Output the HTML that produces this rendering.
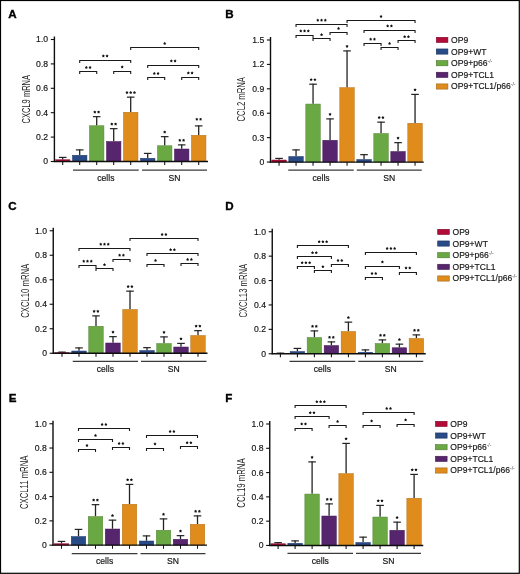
<!DOCTYPE html>
<html><head><meta charset="utf-8"><title>Figure</title>
<style>html,body{margin:0;padding:0;background:#fff;}svg{display:block;will-change:transform;}</style></head>
<body><svg width="520" height="574" viewBox="0 0 520 574">
<rect x="0" y="0" width="520" height="574" fill="#fff"/>
<rect x="0.5" y="0.5" width="518.8" height="572.8" fill="none" stroke="#000" stroke-width="1.2"/>
<text x="8.3" y="18.2" font-size="11.6" font-weight="bold" fill="#000" stroke="#000" stroke-width="0.35" font-family="Liberation Sans, sans-serif">A</text>
<text transform="translate(30.2,99.2) rotate(-90)" font-size="10.4" text-anchor="middle" textLength="48.6" lengthAdjust="spacingAndGlyphs" fill="#1e1e1e" font-family="Liberation Sans, sans-serif">CXCL9 mRNA</text>
<line x1="50.8" y1="161.5" x2="54.4" y2="161.5" stroke="#0e0e0e" stroke-width="1.1"/>
<text transform="translate(48.1,164.45) scale(0.93,1)" font-size="9.3" text-anchor="end" fill="#161616" stroke="#161616" stroke-width="0.18" font-family="Liberation Sans, sans-serif">0</text>
<line x1="50.8" y1="137.1" x2="54.4" y2="137.1" stroke="#0e0e0e" stroke-width="1.1"/>
<text transform="translate(48.1,140.05) scale(0.93,1)" font-size="9.3" text-anchor="end" fill="#161616" stroke="#161616" stroke-width="0.18" font-family="Liberation Sans, sans-serif">0.2</text>
<line x1="50.8" y1="112.7" x2="54.4" y2="112.7" stroke="#0e0e0e" stroke-width="1.1"/>
<text transform="translate(48.1,115.65) scale(0.93,1)" font-size="9.3" text-anchor="end" fill="#161616" stroke="#161616" stroke-width="0.18" font-family="Liberation Sans, sans-serif">0.4</text>
<line x1="50.8" y1="88.3" x2="54.4" y2="88.3" stroke="#0e0e0e" stroke-width="1.1"/>
<text transform="translate(48.1,91.25) scale(0.93,1)" font-size="9.3" text-anchor="end" fill="#161616" stroke="#161616" stroke-width="0.18" font-family="Liberation Sans, sans-serif">0.6</text>
<line x1="50.8" y1="63.9" x2="54.4" y2="63.9" stroke="#0e0e0e" stroke-width="1.1"/>
<text transform="translate(48.1,66.85) scale(0.93,1)" font-size="9.3" text-anchor="end" fill="#161616" stroke="#161616" stroke-width="0.18" font-family="Liberation Sans, sans-serif">0.8</text>
<line x1="50.8" y1="39.5" x2="54.4" y2="39.5" stroke="#0e0e0e" stroke-width="1.1"/>
<text transform="translate(48.1,42.45) scale(0.93,1)" font-size="9.3" text-anchor="end" fill="#161616" stroke="#161616" stroke-width="0.18" font-family="Liberation Sans, sans-serif">1.0</text>
<line x1="62.7" y1="157" x2="62.7" y2="159.5" stroke="#232323" stroke-width="1.3"/>
<line x1="58.9" y1="157.4" x2="66.5" y2="157.4" stroke="#232323" stroke-width="1.2"/>
<rect x="55.45" y="159.75" width="14.5" height="1.75" fill="#B00C37" stroke="#8c092c" stroke-width="0.5"/>
<line x1="62.7" y1="161.5" x2="62.7" y2="165.1" stroke="#0e0e0e" stroke-width="1.05"/>
<line x1="79.7" y1="149.5" x2="79.7" y2="155" stroke="#232323" stroke-width="1.3"/>
<line x1="75.9" y1="149.9" x2="83.5" y2="149.9" stroke="#232323" stroke-width="1.2"/>
<rect x="72.45" y="155.25" width="14.5" height="6.25" fill="#284A86" stroke="#203b6b" stroke-width="0.5"/>
<line x1="79.7" y1="161.5" x2="79.7" y2="165.1" stroke="#0e0e0e" stroke-width="1.05"/>
<line x1="96.7" y1="116.25" x2="96.7" y2="125.5" stroke="#232323" stroke-width="1.3"/>
<line x1="92.9" y1="116.65" x2="100.5" y2="116.65" stroke="#232323" stroke-width="1.2"/>
<rect x="89.45" y="125.75" width="14.5" height="35.75" fill="#6AA843" stroke="#548635" stroke-width="0.5"/>
<polygon points="94.83,110.50 95.38,111.33 96.35,111.61 95.73,112.39 95.77,113.39 94.83,113.05 93.88,113.39 93.92,112.39 93.30,111.61 94.27,111.33" fill="#111"/>
<polygon points="98.58,110.50 99.13,111.33 100.10,111.61 99.48,112.39 99.52,113.39 98.58,113.05 97.63,113.39 97.67,112.39 97.05,111.61 98.02,111.33" fill="#111"/>
<line x1="96.7" y1="161.5" x2="96.7" y2="165.1" stroke="#0e0e0e" stroke-width="1.05"/>
<line x1="113.7" y1="128.25" x2="113.7" y2="141.25" stroke="#232323" stroke-width="1.3"/>
<line x1="109.9" y1="128.65" x2="117.5" y2="128.65" stroke="#232323" stroke-width="1.2"/>
<rect x="106.45" y="141.5" width="14.5" height="20" fill="#56256D" stroke="#441d57" stroke-width="0.5"/>
<polygon points="111.83,122.50 112.38,123.33 113.35,123.61 112.73,124.39 112.77,125.39 111.83,125.05 110.88,125.39 110.92,124.39 110.30,123.61 111.27,123.33" fill="#111"/>
<polygon points="115.58,122.50 116.13,123.33 117.10,123.61 116.48,124.39 116.52,125.39 115.58,125.05 114.63,125.39 114.67,124.39 114.05,123.61 115.02,123.33" fill="#111"/>
<line x1="113.7" y1="161.5" x2="113.7" y2="165.1" stroke="#0e0e0e" stroke-width="1.05"/>
<line x1="130.7" y1="96.75" x2="130.7" y2="112" stroke="#232323" stroke-width="1.3"/>
<line x1="126.9" y1="97.15" x2="134.5" y2="97.15" stroke="#232323" stroke-width="1.2"/>
<rect x="123.45" y="112.25" width="14.5" height="49.25" fill="#E08C1C" stroke="#b37016" stroke-width="0.5"/>
<polygon points="126.95,91.00 127.51,91.83 128.47,92.11 127.85,92.89 127.89,93.89 126.95,93.55 126.01,93.89 126.05,92.89 125.43,92.11 126.39,91.83" fill="#111"/>
<polygon points="130.70,91.00 131.26,91.83 132.22,92.11 131.60,92.89 131.64,93.89 130.70,93.55 129.76,93.89 129.80,92.89 129.18,92.11 130.14,91.83" fill="#111"/>
<polygon points="134.45,91.00 135.01,91.83 135.97,92.11 135.35,92.89 135.39,93.89 134.45,93.55 133.51,93.89 133.55,92.89 132.93,92.11 133.89,91.83" fill="#111"/>
<line x1="130.7" y1="161.5" x2="130.7" y2="165.1" stroke="#0e0e0e" stroke-width="1.05"/>
<line x1="147.7" y1="153" x2="147.7" y2="158" stroke="#232323" stroke-width="1.3"/>
<line x1="143.9" y1="153.4" x2="151.5" y2="153.4" stroke="#232323" stroke-width="1.2"/>
<rect x="140.45" y="158.25" width="14.5" height="3.25" fill="#284A86" stroke="#203b6b" stroke-width="0.5"/>
<line x1="147.7" y1="161.5" x2="147.7" y2="165.1" stroke="#0e0e0e" stroke-width="1.05"/>
<line x1="164.7" y1="136.25" x2="164.7" y2="145.5" stroke="#232323" stroke-width="1.3"/>
<line x1="160.9" y1="136.65" x2="168.5" y2="136.65" stroke="#232323" stroke-width="1.2"/>
<rect x="157.45" y="145.75" width="14.5" height="15.75" fill="#6AA843" stroke="#548635" stroke-width="0.5"/>
<polygon points="164.70,130.50 165.26,131.33 166.22,131.61 165.60,132.39 165.64,133.39 164.70,133.05 163.76,133.39 163.80,132.39 163.18,131.61 164.14,131.33" fill="#111"/>
<line x1="164.7" y1="161.5" x2="164.7" y2="165.1" stroke="#0e0e0e" stroke-width="1.05"/>
<line x1="181.7" y1="144.5" x2="181.7" y2="148.75" stroke="#232323" stroke-width="1.3"/>
<line x1="177.9" y1="144.9" x2="185.5" y2="144.9" stroke="#232323" stroke-width="1.2"/>
<rect x="174.45" y="149" width="14.5" height="12.5" fill="#56256D" stroke="#441d57" stroke-width="0.5"/>
<polygon points="179.82,138.75 180.38,139.58 181.35,139.86 180.73,140.64 180.77,141.64 179.82,141.30 178.88,141.64 178.92,140.64 178.30,139.86 179.27,139.58" fill="#111"/>
<polygon points="183.57,138.75 184.13,139.58 185.10,139.86 184.48,140.64 184.52,141.64 183.57,141.30 182.63,141.64 182.67,140.64 182.05,139.86 183.02,139.58" fill="#111"/>
<line x1="181.7" y1="161.5" x2="181.7" y2="165.1" stroke="#0e0e0e" stroke-width="1.05"/>
<line x1="198.7" y1="125.5" x2="198.7" y2="135" stroke="#232323" stroke-width="1.3"/>
<line x1="194.9" y1="125.9" x2="202.5" y2="125.9" stroke="#232323" stroke-width="1.2"/>
<rect x="191.45" y="135.25" width="14.5" height="26.25" fill="#E08C1C" stroke="#b37016" stroke-width="0.5"/>
<polygon points="196.82,117.65 197.38,118.48 198.35,118.76 197.73,119.54 197.77,120.54 196.82,120.20 195.88,120.54 195.92,119.54 195.30,118.76 196.27,118.48" fill="#111"/>
<polygon points="200.57,117.65 201.13,118.48 202.10,118.76 201.48,119.54 201.52,120.54 200.57,120.20 199.63,120.54 199.67,119.54 199.05,118.76 200.02,118.48" fill="#111"/>
<line x1="198.7" y1="161.5" x2="198.7" y2="165.1" stroke="#0e0e0e" stroke-width="1.05"/>
<line x1="54.4" y1="36.5" x2="54.4" y2="162.1" stroke="#0e0e0e" stroke-width="1.4"/>
<line x1="53.8" y1="161.5" x2="208" y2="161.5" stroke="#0e0e0e" stroke-width="1.35"/>
<line x1="73" y1="170" x2="138.75" y2="170" stroke="#3a3a3a" stroke-width="1.25"/>
<text x="105.88" y="180.7" font-size="8.6" text-anchor="middle" fill="#161616" stroke="#161616" stroke-width="0.18" font-family="Liberation Sans, sans-serif">cells</text>
<line x1="142" y1="170" x2="207" y2="170" stroke="#3a3a3a" stroke-width="1.25"/>
<text x="174.5" y="180.7" font-size="8.6" text-anchor="middle" fill="#161616" stroke="#161616" stroke-width="0.18" font-family="Liberation Sans, sans-serif">SN</text>
<path d="M79.7 63.1V60.5H130.7V63.1" fill="none" stroke="#1a1a1a" stroke-width="1.1"/>
<polygon points="103.32,54.35 103.88,55.18 104.85,55.46 104.23,56.24 104.27,57.24 103.32,56.90 102.38,57.24 102.42,56.24 101.80,55.46 102.77,55.18" fill="#111"/>
<polygon points="107.07,54.35 107.63,55.18 108.60,55.46 107.98,56.24 108.02,57.24 107.07,56.90 106.13,57.24 106.17,56.24 105.55,55.46 106.52,55.18" fill="#111"/>
<path d="M79.7 74.1V71.5H96.7V74.1" fill="none" stroke="#1a1a1a" stroke-width="1.1"/>
<polygon points="86.33,65.85 86.88,66.68 87.85,66.96 87.23,67.74 87.27,68.74 86.33,68.40 85.38,68.74 85.42,67.74 84.80,66.96 85.77,66.68" fill="#111"/>
<polygon points="90.08,65.85 90.63,66.68 91.60,66.96 90.98,67.74 91.02,68.74 90.08,68.40 89.13,68.74 89.17,67.74 88.55,66.96 89.52,66.68" fill="#111"/>
<path d="M113.7 74.1V71.5H130.7V74.1" fill="none" stroke="#1a1a1a" stroke-width="1.1"/>
<polygon points="122.20,65.35 122.76,66.18 123.72,66.46 123.10,67.24 123.14,68.24 122.20,67.90 121.26,68.24 121.30,67.24 120.68,66.46 121.64,66.18" fill="#111"/>
<path d="M130.7 50.1V47.5H198.7V50.1" fill="none" stroke="#1a1a1a" stroke-width="1.1"/>
<polygon points="164.70,41.85 165.26,42.68 166.22,42.96 165.60,43.74 165.64,44.74 164.70,44.40 163.76,44.74 163.80,43.74 163.18,42.96 164.14,42.68" fill="#111"/>
<path d="M147.7 68.1V65.5H198.7V68.1" fill="none" stroke="#1a1a1a" stroke-width="1.1"/>
<polygon points="171.32,59.35 171.88,60.18 172.85,60.46 172.23,61.24 172.27,62.24 171.32,61.90 170.38,62.24 170.42,61.24 169.80,60.46 170.77,60.18" fill="#111"/>
<polygon points="175.07,59.35 175.63,60.18 176.60,60.46 175.98,61.24 176.02,62.24 175.07,61.90 174.13,62.24 174.17,61.24 173.55,60.46 174.52,60.18" fill="#111"/>
<path d="M147.7 80.1V77.5H164.7V80.1" fill="none" stroke="#1a1a1a" stroke-width="1.1"/>
<polygon points="154.32,71.85 154.88,72.68 155.85,72.96 155.23,73.74 155.27,74.74 154.32,74.40 153.38,74.74 153.42,73.74 152.80,72.96 153.77,72.68" fill="#111"/>
<polygon points="158.07,71.85 158.63,72.68 159.60,72.96 158.98,73.74 159.02,74.74 158.07,74.40 157.13,74.74 157.17,73.74 156.55,72.96 157.52,72.68" fill="#111"/>
<path d="M181.7 80.1V77.5H198.7V80.1" fill="none" stroke="#1a1a1a" stroke-width="1.1"/>
<polygon points="188.32,71.35 188.88,72.18 189.85,72.46 189.23,73.24 189.27,74.24 188.32,73.90 187.38,74.24 187.42,73.24 186.80,72.46 187.77,72.18" fill="#111"/>
<polygon points="192.07,71.35 192.63,72.18 193.60,72.46 192.98,73.24 193.02,74.24 192.07,73.90 191.13,74.24 191.17,73.24 190.55,72.46 191.52,72.18" fill="#111"/>
<text x="225.3" y="18.2" font-size="11.6" font-weight="bold" fill="#000" stroke="#000" stroke-width="0.35" font-family="Liberation Sans, sans-serif">B</text>
<text transform="translate(245.1,99.25) rotate(-90)" font-size="10.4" text-anchor="middle" textLength="44.4" lengthAdjust="spacingAndGlyphs" fill="#1e1e1e" font-family="Liberation Sans, sans-serif">CCL2 mRNA</text>
<line x1="266.9" y1="162.05" x2="270.5" y2="162.05" stroke="#0e0e0e" stroke-width="1.1"/>
<text transform="translate(264.2,165) scale(0.93,1)" font-size="9.3" text-anchor="end" fill="#161616" stroke="#161616" stroke-width="0.18" font-family="Liberation Sans, sans-serif">0</text>
<line x1="266.9" y1="137.64" x2="270.5" y2="137.64" stroke="#0e0e0e" stroke-width="1.1"/>
<text transform="translate(264.2,140.59) scale(0.93,1)" font-size="9.3" text-anchor="end" fill="#161616" stroke="#161616" stroke-width="0.18" font-family="Liberation Sans, sans-serif">0.3</text>
<line x1="266.9" y1="113.23" x2="270.5" y2="113.23" stroke="#0e0e0e" stroke-width="1.1"/>
<text transform="translate(264.2,116.18) scale(0.93,1)" font-size="9.3" text-anchor="end" fill="#161616" stroke="#161616" stroke-width="0.18" font-family="Liberation Sans, sans-serif">0.6</text>
<line x1="266.9" y1="88.82" x2="270.5" y2="88.82" stroke="#0e0e0e" stroke-width="1.1"/>
<text transform="translate(264.2,91.77) scale(0.93,1)" font-size="9.3" text-anchor="end" fill="#161616" stroke="#161616" stroke-width="0.18" font-family="Liberation Sans, sans-serif">0.9</text>
<line x1="266.9" y1="64.41" x2="270.5" y2="64.41" stroke="#0e0e0e" stroke-width="1.1"/>
<text transform="translate(264.2,67.36) scale(0.93,1)" font-size="9.3" text-anchor="end" fill="#161616" stroke="#161616" stroke-width="0.18" font-family="Liberation Sans, sans-serif">1.2</text>
<line x1="266.9" y1="40" x2="270.5" y2="40" stroke="#0e0e0e" stroke-width="1.1"/>
<text transform="translate(264.2,42.95) scale(0.93,1)" font-size="9.3" text-anchor="end" fill="#161616" stroke="#161616" stroke-width="0.18" font-family="Liberation Sans, sans-serif">1.5</text>
<line x1="279.05" y1="158" x2="279.05" y2="159.75" stroke="#232323" stroke-width="1.3"/>
<line x1="275.25" y1="158.4" x2="282.85" y2="158.4" stroke="#232323" stroke-width="1.2"/>
<rect x="271.8" y="160" width="14.5" height="2.05" fill="#B00C37" stroke="#8c092c" stroke-width="0.5"/>
<line x1="279.05" y1="162.05" x2="279.05" y2="165.65" stroke="#0e0e0e" stroke-width="1.05"/>
<line x1="296.05" y1="149.5" x2="296.05" y2="156.25" stroke="#232323" stroke-width="1.3"/>
<line x1="292.25" y1="149.9" x2="299.85" y2="149.9" stroke="#232323" stroke-width="1.2"/>
<rect x="288.8" y="156.5" width="14.5" height="5.55" fill="#284A86" stroke="#203b6b" stroke-width="0.5"/>
<line x1="296.05" y1="162.05" x2="296.05" y2="165.65" stroke="#0e0e0e" stroke-width="1.05"/>
<line x1="313.05" y1="83.8" x2="313.05" y2="103.8" stroke="#232323" stroke-width="1.3"/>
<line x1="309.25" y1="84.2" x2="316.85" y2="84.2" stroke="#232323" stroke-width="1.2"/>
<rect x="305.8" y="104.05" width="14.5" height="58" fill="#6AA843" stroke="#548635" stroke-width="0.5"/>
<polygon points="311.18,78.05 311.73,78.88 312.70,79.16 312.08,79.94 312.12,80.94 311.18,80.60 310.23,80.94 310.27,79.94 309.65,79.16 310.62,78.88" fill="#111"/>
<polygon points="314.93,78.05 315.48,78.88 316.45,79.16 315.83,79.94 315.87,80.94 314.93,80.60 313.98,80.94 314.02,79.94 313.40,79.16 314.37,78.88" fill="#111"/>
<line x1="313.05" y1="162.05" x2="313.05" y2="165.65" stroke="#0e0e0e" stroke-width="1.05"/>
<line x1="330.05" y1="118.5" x2="330.05" y2="140" stroke="#232323" stroke-width="1.3"/>
<line x1="326.25" y1="118.9" x2="333.85" y2="118.9" stroke="#232323" stroke-width="1.2"/>
<rect x="322.8" y="140.25" width="14.5" height="21.8" fill="#56256D" stroke="#441d57" stroke-width="0.5"/>
<polygon points="330.05,112.75 330.61,113.58 331.57,113.86 330.95,114.64 330.99,115.64 330.05,115.30 329.11,115.64 329.15,114.64 328.53,113.86 329.49,113.58" fill="#111"/>
<line x1="330.05" y1="162.05" x2="330.05" y2="165.65" stroke="#0e0e0e" stroke-width="1.05"/>
<line x1="347.05" y1="50.5" x2="347.05" y2="87.4" stroke="#232323" stroke-width="1.3"/>
<line x1="343.25" y1="50.9" x2="350.85" y2="50.9" stroke="#232323" stroke-width="1.2"/>
<rect x="339.8" y="87.65" width="14.5" height="74.4" fill="#E08C1C" stroke="#b37016" stroke-width="0.5"/>
<polygon points="347.05,44.75 347.61,45.58 348.57,45.86 347.95,46.64 347.99,47.64 347.05,47.30 346.11,47.64 346.15,46.64 345.53,45.86 346.49,45.58" fill="#111"/>
<line x1="347.05" y1="162.05" x2="347.05" y2="165.65" stroke="#0e0e0e" stroke-width="1.05"/>
<line x1="364.05" y1="154.25" x2="364.05" y2="159.25" stroke="#232323" stroke-width="1.3"/>
<line x1="360.25" y1="154.65" x2="367.85" y2="154.65" stroke="#232323" stroke-width="1.2"/>
<rect x="356.8" y="159.5" width="14.5" height="2.55" fill="#284A86" stroke="#203b6b" stroke-width="0.5"/>
<line x1="364.05" y1="162.05" x2="364.05" y2="165.65" stroke="#0e0e0e" stroke-width="1.05"/>
<line x1="381.05" y1="121.75" x2="381.05" y2="133.25" stroke="#232323" stroke-width="1.3"/>
<line x1="377.25" y1="122.15" x2="384.85" y2="122.15" stroke="#232323" stroke-width="1.2"/>
<rect x="373.8" y="133.5" width="14.5" height="28.55" fill="#6AA843" stroke="#548635" stroke-width="0.5"/>
<polygon points="379.18,116.00 379.73,116.83 380.70,117.11 380.08,117.89 380.12,118.89 379.18,118.55 378.23,118.89 378.27,117.89 377.65,117.11 378.62,116.83" fill="#111"/>
<polygon points="382.93,116.00 383.48,116.83 384.45,117.11 383.83,117.89 383.87,118.89 382.93,118.55 381.98,118.89 382.02,117.89 381.40,117.11 382.37,116.83" fill="#111"/>
<line x1="381.05" y1="162.05" x2="381.05" y2="165.65" stroke="#0e0e0e" stroke-width="1.05"/>
<line x1="398.05" y1="142.25" x2="398.05" y2="151.25" stroke="#232323" stroke-width="1.3"/>
<line x1="394.25" y1="142.65" x2="401.85" y2="142.65" stroke="#232323" stroke-width="1.2"/>
<rect x="390.8" y="151.5" width="14.5" height="10.55" fill="#56256D" stroke="#441d57" stroke-width="0.5"/>
<polygon points="398.05,136.50 398.61,137.33 399.57,137.61 398.95,138.39 398.99,139.39 398.05,139.05 397.11,139.39 397.15,138.39 396.53,137.61 397.49,137.33" fill="#111"/>
<line x1="398.05" y1="162.05" x2="398.05" y2="165.65" stroke="#0e0e0e" stroke-width="1.05"/>
<line x1="415.05" y1="94" x2="415.05" y2="123" stroke="#232323" stroke-width="1.3"/>
<line x1="411.25" y1="94.4" x2="418.85" y2="94.4" stroke="#232323" stroke-width="1.2"/>
<rect x="407.8" y="123.25" width="14.5" height="38.8" fill="#E08C1C" stroke="#b37016" stroke-width="0.5"/>
<polygon points="415.05,88.25 415.61,89.08 416.57,89.36 415.95,90.14 415.99,91.14 415.05,90.80 414.11,91.14 414.15,90.14 413.53,89.36 414.49,89.08" fill="#111"/>
<line x1="415.05" y1="162.05" x2="415.05" y2="165.65" stroke="#0e0e0e" stroke-width="1.05"/>
<line x1="270.5" y1="37" x2="270.5" y2="162.65" stroke="#0e0e0e" stroke-width="1.4"/>
<line x1="269.9" y1="162.05" x2="423.75" y2="162.05" stroke="#0e0e0e" stroke-width="1.35"/>
<line x1="288.25" y1="170" x2="353.75" y2="170" stroke="#3a3a3a" stroke-width="1.25"/>
<text x="321" y="180.7" font-size="8.6" text-anchor="middle" fill="#161616" stroke="#161616" stroke-width="0.18" font-family="Liberation Sans, sans-serif">cells</text>
<line x1="356.75" y1="170" x2="421.75" y2="170" stroke="#3a3a3a" stroke-width="1.25"/>
<text x="389.25" y="180.7" font-size="8.6" text-anchor="middle" fill="#161616" stroke="#161616" stroke-width="0.18" font-family="Liberation Sans, sans-serif">SN</text>
<path d="M296.05 27.1V24.5H347.05V27.1" fill="none" stroke="#1a1a1a" stroke-width="1.1"/>
<polygon points="317.80,18.60 318.36,19.43 319.32,19.71 318.70,20.49 318.74,21.49 317.80,21.15 316.86,21.49 316.90,20.49 316.28,19.71 317.24,19.43" fill="#111"/>
<polygon points="321.55,18.60 322.11,19.43 323.07,19.71 322.45,20.49 322.49,21.49 321.55,21.15 320.61,21.49 320.65,20.49 320.03,19.71 320.99,19.43" fill="#111"/>
<polygon points="325.30,18.60 325.86,19.43 326.82,19.71 326.20,20.49 326.24,21.49 325.30,21.15 324.36,21.49 324.40,20.49 323.78,19.71 324.74,19.43" fill="#111"/>
<path d="M347.05 23.1V20.5H415.05V23.1" fill="none" stroke="#1a1a1a" stroke-width="1.1"/>
<polygon points="381.05,14.85 381.61,15.68 382.57,15.96 381.95,16.74 381.99,17.74 381.05,17.40 380.11,17.74 380.15,16.74 379.53,15.96 380.49,15.68" fill="#111"/>
<path d="M296.05 38.1V35.5H313.05V38.1" fill="none" stroke="#1a1a1a" stroke-width="1.1"/>
<polygon points="300.80,29.35 301.36,30.18 302.32,30.46 301.70,31.24 301.74,32.24 300.80,31.90 299.86,32.24 299.90,31.24 299.28,30.46 300.24,30.18" fill="#111"/>
<polygon points="304.55,29.35 305.11,30.18 306.07,30.46 305.45,31.24 305.49,32.24 304.55,31.90 303.61,32.24 303.65,31.24 303.03,30.46 303.99,30.18" fill="#111"/>
<polygon points="308.30,29.35 308.86,30.18 309.82,30.46 309.20,31.24 309.24,32.24 308.30,31.90 307.36,32.24 307.40,31.24 306.78,30.46 307.74,30.18" fill="#111"/>
<path d="M313.05 41.1V38.5H330.05V41.1" fill="none" stroke="#1a1a1a" stroke-width="1.1"/>
<polygon points="321.55,33.10 322.11,33.93 323.07,34.21 322.45,34.99 322.49,35.99 321.55,35.65 320.61,35.99 320.65,34.99 320.03,34.21 320.99,33.93" fill="#111"/>
<path d="M330.05 35.1V32.5H347.05V35.1" fill="none" stroke="#1a1a1a" stroke-width="1.1"/>
<polygon points="338.55,26.85 339.11,27.68 340.07,27.96 339.45,28.74 339.49,29.74 338.55,29.40 337.61,29.74 337.65,28.74 337.03,27.96 337.99,27.68" fill="#111"/>
<path d="M364.05 33.1V30.5H415.05V33.1" fill="none" stroke="#1a1a1a" stroke-width="1.1"/>
<polygon points="387.68,24.35 388.23,25.18 389.20,25.46 388.58,26.24 388.62,27.24 387.68,26.90 386.73,27.24 386.77,26.24 386.15,25.46 387.12,25.18" fill="#111"/>
<polygon points="391.43,24.35 391.98,25.18 392.95,25.46 392.33,26.24 392.37,27.24 391.43,26.90 390.48,27.24 390.52,26.24 389.90,25.46 390.87,25.18" fill="#111"/>
<path d="M364.05 46.1V43.5H381.05V46.1" fill="none" stroke="#1a1a1a" stroke-width="1.1"/>
<polygon points="370.68,37.60 371.23,38.43 372.20,38.71 371.58,39.49 371.62,40.49 370.68,40.15 369.73,40.49 369.77,39.49 369.15,38.71 370.12,38.43" fill="#111"/>
<polygon points="374.43,37.60 374.98,38.43 375.95,38.71 375.33,39.49 375.37,40.49 374.43,40.15 373.48,40.49 373.52,39.49 372.90,38.71 373.87,38.43" fill="#111"/>
<path d="M381.05 50.1V47.5H398.05V50.1" fill="none" stroke="#1a1a1a" stroke-width="1.1"/>
<polygon points="389.55,41.85 390.11,42.68 391.07,42.96 390.45,43.74 390.49,44.74 389.55,44.40 388.61,44.74 388.65,43.74 388.03,42.96 388.99,42.68" fill="#111"/>
<path d="M398.05 43.1V40.5H415.05V43.1" fill="none" stroke="#1a1a1a" stroke-width="1.1"/>
<polygon points="404.68,35.10 405.23,35.93 406.20,36.21 405.58,36.99 405.62,37.99 404.68,37.65 403.73,37.99 403.77,36.99 403.15,36.21 404.12,35.93" fill="#111"/>
<polygon points="408.43,35.10 408.98,35.93 409.95,36.21 409.33,36.99 409.37,37.99 408.43,37.65 407.48,37.99 407.52,36.99 406.90,36.21 407.87,35.93" fill="#111"/>
<text x="8.3" y="210" font-size="11.6" font-weight="bold" fill="#000" stroke="#000" stroke-width="0.35" font-family="Liberation Sans, sans-serif">C</text>
<text transform="translate(29.2,290.75) rotate(-90)" font-size="10.4" text-anchor="middle" textLength="54" lengthAdjust="spacingAndGlyphs" fill="#1e1e1e" font-family="Liberation Sans, sans-serif">CXCL10 mRNA</text>
<line x1="49.65" y1="353.25" x2="53.25" y2="353.25" stroke="#0e0e0e" stroke-width="1.1"/>
<text transform="translate(46.95,356.2) scale(0.93,1)" font-size="9.3" text-anchor="end" fill="#161616" stroke="#161616" stroke-width="0.18" font-family="Liberation Sans, sans-serif">0</text>
<line x1="49.65" y1="328.75" x2="53.25" y2="328.75" stroke="#0e0e0e" stroke-width="1.1"/>
<text transform="translate(46.95,331.7) scale(0.93,1)" font-size="9.3" text-anchor="end" fill="#161616" stroke="#161616" stroke-width="0.18" font-family="Liberation Sans, sans-serif">0.2</text>
<line x1="49.65" y1="304.25" x2="53.25" y2="304.25" stroke="#0e0e0e" stroke-width="1.1"/>
<text transform="translate(46.95,307.2) scale(0.93,1)" font-size="9.3" text-anchor="end" fill="#161616" stroke="#161616" stroke-width="0.18" font-family="Liberation Sans, sans-serif">0.4</text>
<line x1="49.65" y1="279.75" x2="53.25" y2="279.75" stroke="#0e0e0e" stroke-width="1.1"/>
<text transform="translate(46.95,282.7) scale(0.93,1)" font-size="9.3" text-anchor="end" fill="#161616" stroke="#161616" stroke-width="0.18" font-family="Liberation Sans, sans-serif">0.6</text>
<line x1="49.65" y1="255.25" x2="53.25" y2="255.25" stroke="#0e0e0e" stroke-width="1.1"/>
<text transform="translate(46.95,258.2) scale(0.93,1)" font-size="9.3" text-anchor="end" fill="#161616" stroke="#161616" stroke-width="0.18" font-family="Liberation Sans, sans-serif">0.8</text>
<line x1="49.65" y1="230.75" x2="53.25" y2="230.75" stroke="#0e0e0e" stroke-width="1.1"/>
<text transform="translate(46.95,233.7) scale(0.93,1)" font-size="9.3" text-anchor="end" fill="#161616" stroke="#161616" stroke-width="0.18" font-family="Liberation Sans, sans-serif">1.0</text>
<line x1="62" y1="351.75" x2="62" y2="352.5" stroke="#232323" stroke-width="1.3"/>
<line x1="58.2" y1="352.15" x2="65.8" y2="352.15" stroke="#232323" stroke-width="1.2"/>
<rect x="54.75" y="352.75" width="14.5" height="0.5" fill="#B00C37" stroke="#8c092c" stroke-width="0.5"/>
<line x1="62" y1="353.25" x2="62" y2="356.85" stroke="#0e0e0e" stroke-width="1.05"/>
<line x1="79" y1="347.5" x2="79" y2="350.75" stroke="#232323" stroke-width="1.3"/>
<line x1="75.2" y1="347.9" x2="82.8" y2="347.9" stroke="#232323" stroke-width="1.2"/>
<rect x="71.75" y="351" width="14.5" height="2.25" fill="#284A86" stroke="#203b6b" stroke-width="0.5"/>
<line x1="79" y1="353.25" x2="79" y2="356.85" stroke="#0e0e0e" stroke-width="1.05"/>
<line x1="96" y1="315.5" x2="96" y2="326" stroke="#232323" stroke-width="1.3"/>
<line x1="92.2" y1="315.9" x2="99.8" y2="315.9" stroke="#232323" stroke-width="1.2"/>
<rect x="88.75" y="326.25" width="14.5" height="27" fill="#6AA843" stroke="#548635" stroke-width="0.5"/>
<polygon points="94.12,309.75 94.68,310.58 95.65,310.86 95.03,311.64 95.07,312.64 94.12,312.30 93.18,312.64 93.22,311.64 92.60,310.86 93.57,310.58" fill="#111"/>
<polygon points="97.88,309.75 98.43,310.58 99.40,310.86 98.78,311.64 98.82,312.64 97.88,312.30 96.93,312.64 96.97,311.64 96.35,310.86 97.32,310.58" fill="#111"/>
<line x1="96" y1="353.25" x2="96" y2="356.85" stroke="#0e0e0e" stroke-width="1.05"/>
<line x1="113" y1="336.25" x2="113" y2="342.75" stroke="#232323" stroke-width="1.3"/>
<line x1="109.2" y1="336.65" x2="116.8" y2="336.65" stroke="#232323" stroke-width="1.2"/>
<rect x="105.75" y="343" width="14.5" height="10.25" fill="#56256D" stroke="#441d57" stroke-width="0.5"/>
<polygon points="113.00,330.50 113.56,331.33 114.52,331.61 113.90,332.39 113.94,333.39 113.00,333.05 112.06,333.39 112.10,332.39 111.48,331.61 112.44,331.33" fill="#111"/>
<line x1="113" y1="353.25" x2="113" y2="356.85" stroke="#0e0e0e" stroke-width="1.05"/>
<line x1="130" y1="290.75" x2="130" y2="309.25" stroke="#232323" stroke-width="1.3"/>
<line x1="126.2" y1="291.15" x2="133.8" y2="291.15" stroke="#232323" stroke-width="1.2"/>
<rect x="122.75" y="309.5" width="14.5" height="43.75" fill="#E08C1C" stroke="#b37016" stroke-width="0.5"/>
<polygon points="128.12,285.00 128.68,285.83 129.65,286.11 129.03,286.89 129.07,287.89 128.12,287.55 127.18,287.89 127.22,286.89 126.60,286.11 127.57,285.83" fill="#111"/>
<polygon points="131.88,285.00 132.43,285.83 133.40,286.11 132.78,286.89 132.82,287.89 131.88,287.55 130.93,287.89 130.97,286.89 130.35,286.11 131.32,285.83" fill="#111"/>
<line x1="130" y1="353.25" x2="130" y2="356.85" stroke="#0e0e0e" stroke-width="1.05"/>
<line x1="147" y1="347.25" x2="147" y2="350.25" stroke="#232323" stroke-width="1.3"/>
<line x1="143.2" y1="347.65" x2="150.8" y2="347.65" stroke="#232323" stroke-width="1.2"/>
<rect x="139.75" y="350.5" width="14.5" height="2.75" fill="#284A86" stroke="#203b6b" stroke-width="0.5"/>
<line x1="147" y1="353.25" x2="147" y2="356.85" stroke="#0e0e0e" stroke-width="1.05"/>
<line x1="164" y1="336.5" x2="164" y2="343.25" stroke="#232323" stroke-width="1.3"/>
<line x1="160.2" y1="336.9" x2="167.8" y2="336.9" stroke="#232323" stroke-width="1.2"/>
<rect x="156.75" y="343.5" width="14.5" height="9.75" fill="#6AA843" stroke="#548635" stroke-width="0.5"/>
<polygon points="164.00,330.75 164.56,331.58 165.52,331.86 164.90,332.64 164.94,333.64 164.00,333.30 163.06,333.64 163.10,332.64 162.48,331.86 163.44,331.58" fill="#111"/>
<line x1="164" y1="353.25" x2="164" y2="356.85" stroke="#0e0e0e" stroke-width="1.05"/>
<line x1="181" y1="343" x2="181" y2="346.75" stroke="#232323" stroke-width="1.3"/>
<line x1="177.2" y1="343.4" x2="184.8" y2="343.4" stroke="#232323" stroke-width="1.2"/>
<rect x="173.75" y="347" width="14.5" height="6.25" fill="#56256D" stroke="#441d57" stroke-width="0.5"/>
<polygon points="181.00,337.25 181.56,338.08 182.52,338.36 181.90,339.14 181.94,340.14 181.00,339.80 180.06,340.14 180.10,339.14 179.48,338.36 180.44,338.08" fill="#111"/>
<line x1="181" y1="353.25" x2="181" y2="356.85" stroke="#0e0e0e" stroke-width="1.05"/>
<line x1="198" y1="330.25" x2="198" y2="335.25" stroke="#232323" stroke-width="1.3"/>
<line x1="194.2" y1="330.65" x2="201.8" y2="330.65" stroke="#232323" stroke-width="1.2"/>
<rect x="190.75" y="335.5" width="14.5" height="17.75" fill="#E08C1C" stroke="#b37016" stroke-width="0.5"/>
<polygon points="196.12,324.50 196.68,325.33 197.65,325.61 197.03,326.39 197.07,327.39 196.12,327.05 195.18,327.39 195.22,326.39 194.60,325.61 195.57,325.33" fill="#111"/>
<polygon points="199.88,324.50 200.43,325.33 201.40,325.61 200.78,326.39 200.82,327.39 199.88,327.05 198.93,327.39 198.97,326.39 198.35,325.61 199.32,325.33" fill="#111"/>
<line x1="198" y1="353.25" x2="198" y2="356.85" stroke="#0e0e0e" stroke-width="1.05"/>
<line x1="53.25" y1="227.75" x2="53.25" y2="353.85" stroke="#0e0e0e" stroke-width="1.4"/>
<line x1="52.65" y1="353.25" x2="207.5" y2="353.25" stroke="#0e0e0e" stroke-width="1.35"/>
<line x1="72.75" y1="361.25" x2="138" y2="361.25" stroke="#3a3a3a" stroke-width="1.25"/>
<text x="105.38" y="371.95" font-size="8.6" text-anchor="middle" fill="#161616" stroke="#161616" stroke-width="0.18" font-family="Liberation Sans, sans-serif">cells</text>
<line x1="141" y1="361.25" x2="206.5" y2="361.25" stroke="#3a3a3a" stroke-width="1.25"/>
<text x="173.75" y="371.95" font-size="8.6" text-anchor="middle" fill="#161616" stroke="#161616" stroke-width="0.18" font-family="Liberation Sans, sans-serif">SN</text>
<path d="M130 241.1V238.5H198V241.1" fill="none" stroke="#1a1a1a" stroke-width="1.1"/>
<polygon points="162.12,232.85 162.68,233.68 163.65,233.96 163.03,234.74 163.07,235.74 162.12,235.40 161.18,235.74 161.22,234.74 160.60,233.96 161.57,233.68" fill="#111"/>
<polygon points="165.88,232.85 166.43,233.68 167.40,233.96 166.78,234.74 166.82,235.74 165.88,235.40 164.93,235.74 164.97,234.74 164.35,233.96 165.32,233.68" fill="#111"/>
<path d="M79 251.1V248.5H130V251.1" fill="none" stroke="#1a1a1a" stroke-width="1.1"/>
<polygon points="100.75,242.60 101.31,243.43 102.27,243.71 101.65,244.49 101.69,245.49 100.75,245.15 99.81,245.49 99.85,244.49 99.23,243.71 100.19,243.43" fill="#111"/>
<polygon points="104.50,242.60 105.06,243.43 106.02,243.71 105.40,244.49 105.44,245.49 104.50,245.15 103.56,245.49 103.60,244.49 102.98,243.71 103.94,243.43" fill="#111"/>
<polygon points="108.25,242.60 108.81,243.43 109.77,243.71 109.15,244.49 109.19,245.49 108.25,245.15 107.31,245.49 107.35,244.49 106.73,243.71 107.69,243.43" fill="#111"/>
<path d="M79 268.1V265.5H96V268.1" fill="none" stroke="#1a1a1a" stroke-width="1.1"/>
<polygon points="83.75,259.60 84.31,260.43 85.27,260.71 84.65,261.49 84.69,262.49 83.75,262.15 82.81,262.49 82.85,261.49 82.23,260.71 83.19,260.43" fill="#111"/>
<polygon points="87.50,259.60 88.06,260.43 89.02,260.71 88.40,261.49 88.44,262.49 87.50,262.15 86.56,262.49 86.60,261.49 85.98,260.71 86.94,260.43" fill="#111"/>
<polygon points="91.25,259.60 91.81,260.43 92.77,260.71 92.15,261.49 92.19,262.49 91.25,262.15 90.31,262.49 90.35,261.49 89.73,260.71 90.69,260.43" fill="#111"/>
<path d="M96 271.1V268.5H113V271.1" fill="none" stroke="#1a1a1a" stroke-width="1.1"/>
<polygon points="104.50,263.10 105.06,263.93 106.02,264.21 105.40,264.99 105.44,265.99 104.50,265.65 103.56,265.99 103.60,264.99 102.98,264.21 103.94,263.93" fill="#111"/>
<path d="M113 262.1V259.5H130V262.1" fill="none" stroke="#1a1a1a" stroke-width="1.1"/>
<polygon points="119.62,253.60 120.18,254.43 121.15,254.71 120.53,255.49 120.57,256.49 119.62,256.15 118.68,256.49 118.72,255.49 118.10,254.71 119.07,254.43" fill="#111"/>
<polygon points="123.38,253.60 123.93,254.43 124.90,254.71 124.28,255.49 124.32,256.49 123.38,256.15 122.43,256.49 122.47,255.49 121.85,254.71 122.82,254.43" fill="#111"/>
<path d="M147 256.1V253.5H198V256.1" fill="none" stroke="#1a1a1a" stroke-width="1.1"/>
<polygon points="170.62,248.10 171.18,248.93 172.15,249.21 171.53,249.99 171.57,250.99 170.62,250.65 169.68,250.99 169.72,249.99 169.10,249.21 170.07,248.93" fill="#111"/>
<polygon points="174.38,248.10 174.93,248.93 175.90,249.21 175.28,249.99 175.32,250.99 174.38,250.65 173.43,250.99 173.47,249.99 172.85,249.21 173.82,248.93" fill="#111"/>
<path d="M147 267.1V264.5H164V267.1" fill="none" stroke="#1a1a1a" stroke-width="1.1"/>
<polygon points="155.50,258.85 156.06,259.68 157.02,259.96 156.40,260.74 156.44,261.74 155.50,261.40 154.56,261.74 154.60,260.74 153.98,259.96 154.94,259.68" fill="#111"/>
<path d="M181 266.1V263.5H198V266.1" fill="none" stroke="#1a1a1a" stroke-width="1.1"/>
<polygon points="187.62,257.85 188.18,258.68 189.15,258.96 188.53,259.74 188.57,260.74 187.62,260.40 186.68,260.74 186.72,259.74 186.10,258.96 187.07,258.68" fill="#111"/>
<polygon points="191.38,257.85 191.93,258.68 192.90,258.96 192.28,259.74 192.32,260.74 191.38,260.40 190.43,260.74 190.47,259.74 189.85,258.96 190.82,258.68" fill="#111"/>
<text x="225.3" y="210" font-size="11.6" font-weight="bold" fill="#000" stroke="#000" stroke-width="0.35" font-family="Liberation Sans, sans-serif">D</text>
<text transform="translate(246.8,290.75) rotate(-90)" font-size="10.4" text-anchor="middle" textLength="53.6" lengthAdjust="spacingAndGlyphs" fill="#1e1e1e" font-family="Liberation Sans, sans-serif">CXCL13 mRNA</text>
<line x1="268.65" y1="353.75" x2="272.25" y2="353.75" stroke="#0e0e0e" stroke-width="1.1"/>
<text transform="translate(265.95,356.7) scale(0.93,1)" font-size="9.3" text-anchor="end" fill="#161616" stroke="#161616" stroke-width="0.18" font-family="Liberation Sans, sans-serif">0</text>
<line x1="268.65" y1="329.35" x2="272.25" y2="329.35" stroke="#0e0e0e" stroke-width="1.1"/>
<text transform="translate(265.95,332.3) scale(0.93,1)" font-size="9.3" text-anchor="end" fill="#161616" stroke="#161616" stroke-width="0.18" font-family="Liberation Sans, sans-serif">0.2</text>
<line x1="268.65" y1="304.95" x2="272.25" y2="304.95" stroke="#0e0e0e" stroke-width="1.1"/>
<text transform="translate(265.95,307.9) scale(0.93,1)" font-size="9.3" text-anchor="end" fill="#161616" stroke="#161616" stroke-width="0.18" font-family="Liberation Sans, sans-serif">0.4</text>
<line x1="268.65" y1="280.55" x2="272.25" y2="280.55" stroke="#0e0e0e" stroke-width="1.1"/>
<text transform="translate(265.95,283.5) scale(0.93,1)" font-size="9.3" text-anchor="end" fill="#161616" stroke="#161616" stroke-width="0.18" font-family="Liberation Sans, sans-serif">0.6</text>
<line x1="268.65" y1="256.15" x2="272.25" y2="256.15" stroke="#0e0e0e" stroke-width="1.1"/>
<text transform="translate(265.95,259.1) scale(0.93,1)" font-size="9.3" text-anchor="end" fill="#161616" stroke="#161616" stroke-width="0.18" font-family="Liberation Sans, sans-serif">0.8</text>
<line x1="268.65" y1="231.75" x2="272.25" y2="231.75" stroke="#0e0e0e" stroke-width="1.1"/>
<text transform="translate(265.95,234.7) scale(0.93,1)" font-size="9.3" text-anchor="end" fill="#161616" stroke="#161616" stroke-width="0.18" font-family="Liberation Sans, sans-serif">1.0</text>
<line x1="280.4" y1="352.75" x2="280.4" y2="353.4" stroke="#232323" stroke-width="1.3"/>
<line x1="276.6" y1="353.15" x2="284.2" y2="353.15" stroke="#232323" stroke-width="1.2"/>
<rect x="273.15" y="353.65" width="14.5" height="0.1" fill="#B00C37" stroke="#8c092c" stroke-width="0.5"/>
<line x1="280.4" y1="353.75" x2="280.4" y2="357.35" stroke="#0e0e0e" stroke-width="1.05"/>
<line x1="297.4" y1="348" x2="297.4" y2="351.25" stroke="#232323" stroke-width="1.3"/>
<line x1="293.6" y1="348.4" x2="301.2" y2="348.4" stroke="#232323" stroke-width="1.2"/>
<rect x="290.15" y="351.5" width="14.5" height="2.25" fill="#284A86" stroke="#203b6b" stroke-width="0.5"/>
<line x1="297.4" y1="353.75" x2="297.4" y2="357.35" stroke="#0e0e0e" stroke-width="1.05"/>
<line x1="314.4" y1="330.5" x2="314.4" y2="337.25" stroke="#232323" stroke-width="1.3"/>
<line x1="310.6" y1="330.9" x2="318.2" y2="330.9" stroke="#232323" stroke-width="1.2"/>
<rect x="307.15" y="337.5" width="14.5" height="16.25" fill="#6AA843" stroke="#548635" stroke-width="0.5"/>
<polygon points="312.52,324.75 313.08,325.58 314.05,325.86 313.43,326.64 313.47,327.64 312.52,327.30 311.58,327.64 311.62,326.64 311.00,325.86 311.97,325.58" fill="#111"/>
<polygon points="316.27,324.75 316.83,325.58 317.80,325.86 317.18,326.64 317.22,327.64 316.27,327.30 315.33,327.64 315.37,326.64 314.75,325.86 315.72,325.58" fill="#111"/>
<line x1="314.4" y1="353.75" x2="314.4" y2="357.35" stroke="#0e0e0e" stroke-width="1.05"/>
<line x1="331.4" y1="341.5" x2="331.4" y2="345.25" stroke="#232323" stroke-width="1.3"/>
<line x1="327.6" y1="341.9" x2="335.2" y2="341.9" stroke="#232323" stroke-width="1.2"/>
<rect x="324.15" y="345.5" width="14.5" height="8.25" fill="#56256D" stroke="#441d57" stroke-width="0.5"/>
<polygon points="329.52,335.75 330.08,336.58 331.05,336.86 330.43,337.64 330.47,338.64 329.52,338.30 328.58,338.64 328.62,337.64 328.00,336.86 328.97,336.58" fill="#111"/>
<polygon points="333.27,335.75 333.83,336.58 334.80,336.86 334.18,337.64 334.22,338.64 333.27,338.30 332.33,338.64 332.37,337.64 331.75,336.86 332.72,336.58" fill="#111"/>
<line x1="331.4" y1="353.75" x2="331.4" y2="357.35" stroke="#0e0e0e" stroke-width="1.05"/>
<line x1="348.4" y1="321.75" x2="348.4" y2="331.25" stroke="#232323" stroke-width="1.3"/>
<line x1="344.6" y1="322.15" x2="352.2" y2="322.15" stroke="#232323" stroke-width="1.2"/>
<rect x="341.15" y="331.5" width="14.5" height="22.25" fill="#E08C1C" stroke="#b37016" stroke-width="0.5"/>
<polygon points="348.40,316.00 348.96,316.83 349.92,317.11 349.30,317.89 349.34,318.89 348.40,318.55 347.46,318.89 347.50,317.89 346.88,317.11 347.84,316.83" fill="#111"/>
<line x1="348.4" y1="353.75" x2="348.4" y2="357.35" stroke="#0e0e0e" stroke-width="1.05"/>
<line x1="365.4" y1="349.5" x2="365.4" y2="352" stroke="#232323" stroke-width="1.3"/>
<line x1="361.6" y1="349.9" x2="369.2" y2="349.9" stroke="#232323" stroke-width="1.2"/>
<rect x="358.15" y="352.25" width="14.5" height="1.5" fill="#284A86" stroke="#203b6b" stroke-width="0.5"/>
<line x1="365.4" y1="353.75" x2="365.4" y2="357.35" stroke="#0e0e0e" stroke-width="1.05"/>
<line x1="382.4" y1="339.5" x2="382.4" y2="343.25" stroke="#232323" stroke-width="1.3"/>
<line x1="378.6" y1="339.9" x2="386.2" y2="339.9" stroke="#232323" stroke-width="1.2"/>
<rect x="375.15" y="343.5" width="14.5" height="10.25" fill="#6AA843" stroke="#548635" stroke-width="0.5"/>
<polygon points="380.52,333.75 381.08,334.58 382.05,334.86 381.43,335.64 381.47,336.64 380.52,336.30 379.58,336.64 379.62,335.64 379.00,334.86 379.97,334.58" fill="#111"/>
<polygon points="384.27,333.75 384.83,334.58 385.80,334.86 385.18,335.64 385.22,336.64 384.27,336.30 383.33,336.64 383.37,335.64 382.75,334.86 383.72,334.58" fill="#111"/>
<line x1="382.4" y1="353.75" x2="382.4" y2="357.35" stroke="#0e0e0e" stroke-width="1.05"/>
<line x1="399.4" y1="343.75" x2="399.4" y2="347.5" stroke="#232323" stroke-width="1.3"/>
<line x1="395.6" y1="344.15" x2="403.2" y2="344.15" stroke="#232323" stroke-width="1.2"/>
<rect x="392.15" y="347.75" width="14.5" height="6" fill="#56256D" stroke="#441d57" stroke-width="0.5"/>
<polygon points="399.40,338.00 399.96,338.83 400.92,339.11 400.30,339.89 400.34,340.89 399.40,340.55 398.46,340.89 398.50,339.89 397.88,339.11 398.84,338.83" fill="#111"/>
<line x1="399.4" y1="353.75" x2="399.4" y2="357.35" stroke="#0e0e0e" stroke-width="1.05"/>
<line x1="416.4" y1="334.5" x2="416.4" y2="338.25" stroke="#232323" stroke-width="1.3"/>
<line x1="412.6" y1="334.9" x2="420.2" y2="334.9" stroke="#232323" stroke-width="1.2"/>
<rect x="409.15" y="338.5" width="14.5" height="15.25" fill="#E08C1C" stroke="#b37016" stroke-width="0.5"/>
<polygon points="414.52,328.75 415.08,329.58 416.05,329.86 415.43,330.64 415.47,331.64 414.52,331.30 413.58,331.64 413.62,330.64 413.00,329.86 413.97,329.58" fill="#111"/>
<polygon points="418.27,328.75 418.83,329.58 419.80,329.86 419.18,330.64 419.22,331.64 418.27,331.30 417.33,331.64 417.37,330.64 416.75,329.86 417.72,329.58" fill="#111"/>
<line x1="416.4" y1="353.75" x2="416.4" y2="357.35" stroke="#0e0e0e" stroke-width="1.05"/>
<line x1="272.25" y1="228.75" x2="272.25" y2="354.35" stroke="#0e0e0e" stroke-width="1.4"/>
<line x1="271.65" y1="353.75" x2="425.75" y2="353.75" stroke="#0e0e0e" stroke-width="1.35"/>
<line x1="289.5" y1="361.25" x2="355.25" y2="361.25" stroke="#3a3a3a" stroke-width="1.25"/>
<text x="322.38" y="371.95" font-size="8.6" text-anchor="middle" fill="#161616" stroke="#161616" stroke-width="0.18" font-family="Liberation Sans, sans-serif">cells</text>
<line x1="358.25" y1="361.25" x2="423.25" y2="361.25" stroke="#3a3a3a" stroke-width="1.25"/>
<text x="390.75" y="371.95" font-size="8.6" text-anchor="middle" fill="#161616" stroke="#161616" stroke-width="0.18" font-family="Liberation Sans, sans-serif">SN</text>
<path d="M297.4 248.1V245.5H348.4V248.1" fill="none" stroke="#1a1a1a" stroke-width="1.1"/>
<polygon points="319.15,240.10 319.71,240.93 320.67,241.21 320.05,241.99 320.09,242.99 319.15,242.65 318.21,242.99 318.25,241.99 317.63,241.21 318.59,240.93" fill="#111"/>
<polygon points="322.90,240.10 323.46,240.93 324.42,241.21 323.80,241.99 323.84,242.99 322.90,242.65 321.96,242.99 322.00,241.99 321.38,241.21 322.34,240.93" fill="#111"/>
<polygon points="326.65,240.10 327.21,240.93 328.17,241.21 327.55,241.99 327.59,242.99 326.65,242.65 325.71,242.99 325.75,241.99 325.13,241.21 326.09,240.93" fill="#111"/>
<path d="M297.4 259.1V256.5H331.4V259.1" fill="none" stroke="#1a1a1a" stroke-width="1.1"/>
<polygon points="312.52,251.10 313.08,251.93 314.05,252.21 313.43,252.99 313.47,253.99 312.52,253.65 311.58,253.99 311.62,252.99 311.00,252.21 311.97,251.93" fill="#111"/>
<polygon points="316.27,251.10 316.83,251.93 317.80,252.21 317.18,252.99 317.22,253.99 316.27,253.65 315.33,253.99 315.37,252.99 314.75,252.21 315.72,251.93" fill="#111"/>
<path d="M297.4 269.1V266.5H314.4V269.1" fill="none" stroke="#1a1a1a" stroke-width="1.1"/>
<polygon points="302.15,261.10 302.71,261.93 303.67,262.21 303.05,262.99 303.09,263.99 302.15,263.65 301.21,263.99 301.25,262.99 300.63,262.21 301.59,261.93" fill="#111"/>
<polygon points="305.90,261.10 306.46,261.93 307.42,262.21 306.80,262.99 306.84,263.99 305.90,263.65 304.96,263.99 305.00,262.99 304.38,262.21 305.34,261.93" fill="#111"/>
<polygon points="309.65,261.10 310.21,261.93 311.17,262.21 310.55,262.99 310.59,263.99 309.65,263.65 308.71,263.99 308.75,262.99 308.13,262.21 309.09,261.93" fill="#111"/>
<path d="M314.4 273.1V270.5H331.4V273.1" fill="none" stroke="#1a1a1a" stroke-width="1.1"/>
<polygon points="322.90,265.10 323.46,265.93 324.42,266.21 323.80,266.99 323.84,267.99 322.90,267.65 321.96,267.99 322.00,266.99 321.38,266.21 322.34,265.93" fill="#111"/>
<path d="M331.4 267.1V264.5H348.4V267.1" fill="none" stroke="#1a1a1a" stroke-width="1.1"/>
<polygon points="338.02,258.85 338.58,259.68 339.55,259.96 338.93,260.74 338.97,261.74 338.02,261.40 337.08,261.74 337.12,260.74 336.50,259.96 337.47,259.68" fill="#111"/>
<polygon points="341.77,258.85 342.33,259.68 343.30,259.96 342.68,260.74 342.72,261.74 341.77,261.40 340.83,261.74 340.87,260.74 340.25,259.96 341.22,259.68" fill="#111"/>
<path d="M365.4 255.1V252.5H416.4V255.1" fill="none" stroke="#1a1a1a" stroke-width="1.1"/>
<polygon points="387.15,246.85 387.71,247.68 388.67,247.96 388.05,248.74 388.09,249.74 387.15,249.40 386.21,249.74 386.25,248.74 385.63,247.96 386.59,247.68" fill="#111"/>
<polygon points="390.90,246.85 391.46,247.68 392.42,247.96 391.80,248.74 391.84,249.74 390.90,249.40 389.96,249.74 390.00,248.74 389.38,247.96 390.34,247.68" fill="#111"/>
<polygon points="394.65,246.85 395.21,247.68 396.17,247.96 395.55,248.74 395.59,249.74 394.65,249.40 393.71,249.74 393.75,248.74 393.13,247.96 394.09,247.68" fill="#111"/>
<path d="M365.4 269.1V266.5H399.4V269.1" fill="none" stroke="#1a1a1a" stroke-width="1.1"/>
<polygon points="382.40,260.35 382.96,261.18 383.92,261.46 383.30,262.24 383.34,263.24 382.40,262.90 381.46,263.24 381.50,262.24 380.88,261.46 381.84,261.18" fill="#111"/>
<path d="M399.4 275.1V272.5H416.4V275.1" fill="none" stroke="#1a1a1a" stroke-width="1.1"/>
<polygon points="406.02,266.35 406.58,267.18 407.55,267.46 406.93,268.24 406.97,269.24 406.02,268.90 405.08,269.24 405.12,268.24 404.50,267.46 405.47,267.18" fill="#111"/>
<polygon points="409.77,266.35 410.33,267.18 411.30,267.46 410.68,268.24 410.72,269.24 409.77,268.90 408.83,269.24 408.87,268.24 408.25,267.46 409.22,267.18" fill="#111"/>
<path d="M365.4 280.1V277.5H382.4V280.1" fill="none" stroke="#1a1a1a" stroke-width="1.1"/>
<polygon points="372.02,271.85 372.58,272.68 373.55,272.96 372.93,273.74 372.97,274.74 372.02,274.40 371.08,274.74 371.12,273.74 370.50,272.96 371.47,272.68" fill="#111"/>
<polygon points="375.77,271.85 376.33,272.68 377.30,272.96 376.68,273.74 376.72,274.74 375.77,274.40 374.83,274.74 374.87,273.74 374.25,272.96 375.22,272.68" fill="#111"/>
<text x="8.8" y="402.2" font-size="11.6" font-weight="bold" fill="#000" stroke="#000" stroke-width="0.35" font-family="Liberation Sans, sans-serif">E</text>
<text transform="translate(28.3,482.35) rotate(-90)" font-size="10.4" text-anchor="middle" textLength="53.4" lengthAdjust="spacingAndGlyphs" fill="#1e1e1e" font-family="Liberation Sans, sans-serif">CXCL11 mRNA</text>
<line x1="49.4" y1="545.15" x2="53" y2="545.15" stroke="#0e0e0e" stroke-width="1.1"/>
<text transform="translate(46.7,548.1) scale(0.93,1)" font-size="9.3" text-anchor="end" fill="#161616" stroke="#161616" stroke-width="0.18" font-family="Liberation Sans, sans-serif">0</text>
<line x1="49.4" y1="520.87" x2="53" y2="520.87" stroke="#0e0e0e" stroke-width="1.1"/>
<text transform="translate(46.7,523.82) scale(0.93,1)" font-size="9.3" text-anchor="end" fill="#161616" stroke="#161616" stroke-width="0.18" font-family="Liberation Sans, sans-serif">0.2</text>
<line x1="49.4" y1="496.59" x2="53" y2="496.59" stroke="#0e0e0e" stroke-width="1.1"/>
<text transform="translate(46.7,499.54) scale(0.93,1)" font-size="9.3" text-anchor="end" fill="#161616" stroke="#161616" stroke-width="0.18" font-family="Liberation Sans, sans-serif">0.4</text>
<line x1="49.4" y1="472.31" x2="53" y2="472.31" stroke="#0e0e0e" stroke-width="1.1"/>
<text transform="translate(46.7,475.26) scale(0.93,1)" font-size="9.3" text-anchor="end" fill="#161616" stroke="#161616" stroke-width="0.18" font-family="Liberation Sans, sans-serif">0.6</text>
<line x1="49.4" y1="448.03" x2="53" y2="448.03" stroke="#0e0e0e" stroke-width="1.1"/>
<text transform="translate(46.7,450.98) scale(0.93,1)" font-size="9.3" text-anchor="end" fill="#161616" stroke="#161616" stroke-width="0.18" font-family="Liberation Sans, sans-serif">0.8</text>
<line x1="49.4" y1="423.75" x2="53" y2="423.75" stroke="#0e0e0e" stroke-width="1.1"/>
<text transform="translate(46.7,426.7) scale(0.93,1)" font-size="9.3" text-anchor="end" fill="#161616" stroke="#161616" stroke-width="0.18" font-family="Liberation Sans, sans-serif">1.0</text>
<line x1="61.5" y1="541" x2="61.5" y2="543.5" stroke="#232323" stroke-width="1.3"/>
<line x1="57.7" y1="541.4" x2="65.3" y2="541.4" stroke="#232323" stroke-width="1.2"/>
<rect x="54.25" y="543.75" width="14.5" height="1.4" fill="#B00C37" stroke="#8c092c" stroke-width="0.5"/>
<line x1="61.5" y1="545.15" x2="61.5" y2="548.75" stroke="#0e0e0e" stroke-width="1.05"/>
<line x1="78.5" y1="529" x2="78.5" y2="536.25" stroke="#232323" stroke-width="1.3"/>
<line x1="74.7" y1="529.4" x2="82.3" y2="529.4" stroke="#232323" stroke-width="1.2"/>
<rect x="71.25" y="536.5" width="14.5" height="8.65" fill="#284A86" stroke="#203b6b" stroke-width="0.5"/>
<line x1="78.5" y1="545.15" x2="78.5" y2="548.75" stroke="#0e0e0e" stroke-width="1.05"/>
<line x1="95.5" y1="504.25" x2="95.5" y2="516.25" stroke="#232323" stroke-width="1.3"/>
<line x1="91.7" y1="504.65" x2="99.3" y2="504.65" stroke="#232323" stroke-width="1.2"/>
<rect x="88.25" y="516.5" width="14.5" height="28.65" fill="#6AA843" stroke="#548635" stroke-width="0.5"/>
<polygon points="93.62,498.50 94.18,499.33 95.15,499.61 94.53,500.39 94.57,501.39 93.62,501.05 92.68,501.39 92.72,500.39 92.10,499.61 93.07,499.33" fill="#111"/>
<polygon points="97.38,498.50 97.93,499.33 98.90,499.61 98.28,500.39 98.32,501.39 97.38,501.05 96.43,501.39 96.47,500.39 95.85,499.61 96.82,499.33" fill="#111"/>
<line x1="95.5" y1="545.15" x2="95.5" y2="548.75" stroke="#0e0e0e" stroke-width="1.05"/>
<line x1="112.5" y1="519.75" x2="112.5" y2="528.75" stroke="#232323" stroke-width="1.3"/>
<line x1="108.7" y1="520.15" x2="116.3" y2="520.15" stroke="#232323" stroke-width="1.2"/>
<rect x="105.25" y="529" width="14.5" height="16.15" fill="#56256D" stroke="#441d57" stroke-width="0.5"/>
<polygon points="112.50,514.00 113.06,514.83 114.02,515.11 113.40,515.89 113.44,516.89 112.50,516.55 111.56,516.89 111.60,515.89 110.98,515.11 111.94,514.83" fill="#111"/>
<line x1="112.5" y1="545.15" x2="112.5" y2="548.75" stroke="#0e0e0e" stroke-width="1.05"/>
<line x1="129.5" y1="484" x2="129.5" y2="504" stroke="#232323" stroke-width="1.3"/>
<line x1="125.7" y1="484.4" x2="133.3" y2="484.4" stroke="#232323" stroke-width="1.2"/>
<rect x="122.25" y="504.25" width="14.5" height="40.9" fill="#E08C1C" stroke="#b37016" stroke-width="0.5"/>
<polygon points="127.62,478.25 128.18,479.08 129.15,479.36 128.53,480.14 128.57,481.14 127.62,480.80 126.68,481.14 126.72,480.14 126.10,479.36 127.07,479.08" fill="#111"/>
<polygon points="131.38,478.25 131.93,479.08 132.90,479.36 132.28,480.14 132.32,481.14 131.38,480.80 130.43,481.14 130.47,480.14 129.85,479.36 130.82,479.08" fill="#111"/>
<line x1="129.5" y1="545.15" x2="129.5" y2="548.75" stroke="#0e0e0e" stroke-width="1.05"/>
<line x1="146.5" y1="535.5" x2="146.5" y2="540.75" stroke="#232323" stroke-width="1.3"/>
<line x1="142.7" y1="535.9" x2="150.3" y2="535.9" stroke="#232323" stroke-width="1.2"/>
<rect x="139.25" y="541" width="14.5" height="4.15" fill="#284A86" stroke="#203b6b" stroke-width="0.5"/>
<line x1="146.5" y1="545.15" x2="146.5" y2="548.75" stroke="#0e0e0e" stroke-width="1.05"/>
<line x1="163.5" y1="518.5" x2="163.5" y2="530" stroke="#232323" stroke-width="1.3"/>
<line x1="159.7" y1="518.9" x2="167.3" y2="518.9" stroke="#232323" stroke-width="1.2"/>
<rect x="156.25" y="530.25" width="14.5" height="14.9" fill="#6AA843" stroke="#548635" stroke-width="0.5"/>
<polygon points="163.50,512.75 164.06,513.58 165.02,513.86 164.40,514.64 164.44,515.64 163.50,515.30 162.56,515.64 162.60,514.64 161.98,513.86 162.94,513.58" fill="#111"/>
<line x1="163.5" y1="545.15" x2="163.5" y2="548.75" stroke="#0e0e0e" stroke-width="1.05"/>
<line x1="180.5" y1="535.25" x2="180.5" y2="539" stroke="#232323" stroke-width="1.3"/>
<line x1="176.7" y1="535.65" x2="184.3" y2="535.65" stroke="#232323" stroke-width="1.2"/>
<rect x="173.25" y="539.25" width="14.5" height="5.9" fill="#56256D" stroke="#441d57" stroke-width="0.5"/>
<polygon points="180.50,529.50 181.06,530.33 182.02,530.61 181.40,531.39 181.44,532.39 180.50,532.05 179.56,532.39 179.60,531.39 178.98,530.61 179.94,530.33" fill="#111"/>
<line x1="180.5" y1="545.15" x2="180.5" y2="548.75" stroke="#0e0e0e" stroke-width="1.05"/>
<line x1="197.5" y1="515.5" x2="197.5" y2="524" stroke="#232323" stroke-width="1.3"/>
<line x1="193.7" y1="515.9" x2="201.3" y2="515.9" stroke="#232323" stroke-width="1.2"/>
<rect x="190.25" y="524.25" width="14.5" height="20.9" fill="#E08C1C" stroke="#b37016" stroke-width="0.5"/>
<polygon points="195.62,509.75 196.18,510.58 197.15,510.86 196.53,511.64 196.57,512.64 195.62,512.30 194.68,512.64 194.72,511.64 194.10,510.86 195.07,510.58" fill="#111"/>
<polygon points="199.38,509.75 199.93,510.58 200.90,510.86 200.28,511.64 200.32,512.64 199.38,512.30 198.43,512.64 198.47,511.64 197.85,510.86 198.82,510.58" fill="#111"/>
<line x1="197.5" y1="545.15" x2="197.5" y2="548.75" stroke="#0e0e0e" stroke-width="1.05"/>
<line x1="53" y1="420.75" x2="53" y2="545.75" stroke="#0e0e0e" stroke-width="1.4"/>
<line x1="52.4" y1="545.15" x2="207" y2="545.15" stroke="#0e0e0e" stroke-width="1.35"/>
<line x1="71.75" y1="553.5" x2="137.5" y2="553.5" stroke="#3a3a3a" stroke-width="1.25"/>
<text x="104.62" y="564.2" font-size="8.6" text-anchor="middle" fill="#161616" stroke="#161616" stroke-width="0.18" font-family="Liberation Sans, sans-serif">cells</text>
<line x1="140.5" y1="553.5" x2="205.5" y2="553.5" stroke="#3a3a3a" stroke-width="1.25"/>
<text x="173" y="564.2" font-size="8.6" text-anchor="middle" fill="#161616" stroke="#161616" stroke-width="0.18" font-family="Liberation Sans, sans-serif">SN</text>
<path d="M78.5 431.1V428.5H129.5V431.1" fill="none" stroke="#1a1a1a" stroke-width="1.1"/>
<polygon points="102.12,422.85 102.68,423.68 103.65,423.96 103.03,424.74 103.07,425.74 102.12,425.40 101.18,425.74 101.22,424.74 100.60,423.96 101.57,423.68" fill="#111"/>
<polygon points="105.88,422.85 106.43,423.68 107.40,423.96 106.78,424.74 106.82,425.74 105.88,425.40 104.93,425.74 104.97,424.74 104.35,423.96 105.32,423.68" fill="#111"/>
<path d="M78.5 442.1V439.5H112.5V442.1" fill="none" stroke="#1a1a1a" stroke-width="1.1"/>
<polygon points="95.50,433.85 96.06,434.68 97.02,434.96 96.40,435.74 96.44,436.74 95.50,436.40 94.56,436.74 94.60,435.74 93.98,434.96 94.94,434.68" fill="#111"/>
<path d="M78.5 452.1V449.5H95.5V452.1" fill="none" stroke="#1a1a1a" stroke-width="1.1"/>
<polygon points="87.00,443.85 87.56,444.68 88.52,444.96 87.90,445.74 87.94,446.74 87.00,446.40 86.06,446.74 86.10,445.74 85.48,444.96 86.44,444.68" fill="#111"/>
<path d="M112.5 450.1V447.5H129.5V450.1" fill="none" stroke="#1a1a1a" stroke-width="1.1"/>
<polygon points="119.12,441.85 119.68,442.68 120.65,442.96 120.03,443.74 120.07,444.74 119.12,444.40 118.18,444.74 118.22,443.74 117.60,442.96 118.57,442.68" fill="#111"/>
<polygon points="122.88,441.85 123.43,442.68 124.40,442.96 123.78,443.74 123.82,444.74 122.88,444.40 121.93,444.74 121.97,443.74 121.35,442.96 122.32,442.68" fill="#111"/>
<path d="M146.5 438.1V435.5H197.5V438.1" fill="none" stroke="#1a1a1a" stroke-width="1.1"/>
<polygon points="170.12,429.85 170.68,430.68 171.65,430.96 171.03,431.74 171.07,432.74 170.12,432.40 169.18,432.74 169.22,431.74 168.60,430.96 169.57,430.68" fill="#111"/>
<polygon points="173.88,429.85 174.43,430.68 175.40,430.96 174.78,431.74 174.82,432.74 173.88,432.40 172.93,432.74 172.97,431.74 172.35,430.96 173.32,430.68" fill="#111"/>
<path d="M146.5 451.1V448.5H163.5V451.1" fill="none" stroke="#1a1a1a" stroke-width="1.1"/>
<polygon points="155.00,442.35 155.56,443.18 156.52,443.46 155.90,444.24 155.94,445.24 155.00,444.90 154.06,445.24 154.10,444.24 153.48,443.46 154.44,443.18" fill="#111"/>
<path d="M180.5 449.1V446.5H197.5V449.1" fill="none" stroke="#1a1a1a" stroke-width="1.1"/>
<polygon points="187.12,441.10 187.68,441.93 188.65,442.21 188.03,442.99 188.07,443.99 187.12,443.65 186.18,443.99 186.22,442.99 185.60,442.21 186.57,441.93" fill="#111"/>
<polygon points="190.88,441.10 191.43,441.93 192.40,442.21 191.78,442.99 191.82,443.99 190.88,443.65 189.93,443.99 189.97,442.99 189.35,442.21 190.32,441.93" fill="#111"/>
<text x="225.3" y="402.2" font-size="11.6" font-weight="bold" fill="#000" stroke="#000" stroke-width="0.35" font-family="Liberation Sans, sans-serif">F</text>
<text transform="translate(244.8,483) rotate(-90)" font-size="10.4" text-anchor="middle" textLength="49.3" lengthAdjust="spacingAndGlyphs" fill="#1e1e1e" font-family="Liberation Sans, sans-serif">CCL19 mRNA</text>
<line x1="266.15" y1="545.45" x2="269.75" y2="545.45" stroke="#0e0e0e" stroke-width="1.1"/>
<text transform="translate(263.45,548.4) scale(0.93,1)" font-size="9.3" text-anchor="end" fill="#161616" stroke="#161616" stroke-width="0.18" font-family="Liberation Sans, sans-serif">0</text>
<line x1="266.15" y1="521.16" x2="269.75" y2="521.16" stroke="#0e0e0e" stroke-width="1.1"/>
<text transform="translate(263.45,524.11) scale(0.93,1)" font-size="9.3" text-anchor="end" fill="#161616" stroke="#161616" stroke-width="0.18" font-family="Liberation Sans, sans-serif">0.2</text>
<line x1="266.15" y1="496.87" x2="269.75" y2="496.87" stroke="#0e0e0e" stroke-width="1.1"/>
<text transform="translate(263.45,499.82) scale(0.93,1)" font-size="9.3" text-anchor="end" fill="#161616" stroke="#161616" stroke-width="0.18" font-family="Liberation Sans, sans-serif">0.4</text>
<line x1="266.15" y1="472.58" x2="269.75" y2="472.58" stroke="#0e0e0e" stroke-width="1.1"/>
<text transform="translate(263.45,475.53) scale(0.93,1)" font-size="9.3" text-anchor="end" fill="#161616" stroke="#161616" stroke-width="0.18" font-family="Liberation Sans, sans-serif">0.6</text>
<line x1="266.15" y1="448.29" x2="269.75" y2="448.29" stroke="#0e0e0e" stroke-width="1.1"/>
<text transform="translate(263.45,451.24) scale(0.93,1)" font-size="9.3" text-anchor="end" fill="#161616" stroke="#161616" stroke-width="0.18" font-family="Liberation Sans, sans-serif">0.8</text>
<line x1="266.15" y1="424" x2="269.75" y2="424" stroke="#0e0e0e" stroke-width="1.1"/>
<text transform="translate(263.45,426.95) scale(0.93,1)" font-size="9.3" text-anchor="end" fill="#161616" stroke="#161616" stroke-width="0.18" font-family="Liberation Sans, sans-serif">1.0</text>
<line x1="278.1" y1="542.25" x2="278.1" y2="543.5" stroke="#232323" stroke-width="1.3"/>
<line x1="274.3" y1="542.65" x2="281.9" y2="542.65" stroke="#232323" stroke-width="1.2"/>
<rect x="270.85" y="543.75" width="14.5" height="1.7" fill="#B00C37" stroke="#8c092c" stroke-width="0.5"/>
<line x1="278.1" y1="545.45" x2="278.1" y2="549.05" stroke="#0e0e0e" stroke-width="1.05"/>
<line x1="295.1" y1="540.5" x2="295.1" y2="543" stroke="#232323" stroke-width="1.3"/>
<line x1="291.3" y1="540.9" x2="298.9" y2="540.9" stroke="#232323" stroke-width="1.2"/>
<rect x="287.85" y="543.25" width="14.5" height="2.2" fill="#284A86" stroke="#203b6b" stroke-width="0.5"/>
<line x1="295.1" y1="545.45" x2="295.1" y2="549.05" stroke="#0e0e0e" stroke-width="1.05"/>
<line x1="312.1" y1="461.5" x2="312.1" y2="493.8" stroke="#232323" stroke-width="1.3"/>
<line x1="308.3" y1="461.9" x2="315.9" y2="461.9" stroke="#232323" stroke-width="1.2"/>
<rect x="304.85" y="494.05" width="14.5" height="51.4" fill="#6AA843" stroke="#548635" stroke-width="0.5"/>
<polygon points="312.10,455.75 312.66,456.58 313.62,456.86 313.00,457.64 313.04,458.64 312.10,458.30 311.16,458.64 311.20,457.64 310.58,456.86 311.54,456.58" fill="#111"/>
<line x1="312.1" y1="545.45" x2="312.1" y2="549.05" stroke="#0e0e0e" stroke-width="1.05"/>
<line x1="329.1" y1="503.5" x2="329.1" y2="515.75" stroke="#232323" stroke-width="1.3"/>
<line x1="325.3" y1="503.9" x2="332.9" y2="503.9" stroke="#232323" stroke-width="1.2"/>
<rect x="321.85" y="516" width="14.5" height="29.45" fill="#56256D" stroke="#441d57" stroke-width="0.5"/>
<polygon points="327.23,497.75 327.78,498.58 328.75,498.86 328.13,499.64 328.17,500.64 327.23,500.30 326.28,500.64 326.32,499.64 325.70,498.86 326.67,498.58" fill="#111"/>
<polygon points="330.98,497.75 331.53,498.58 332.50,498.86 331.88,499.64 331.92,500.64 330.98,500.30 330.03,500.64 330.07,499.64 329.45,498.86 330.42,498.58" fill="#111"/>
<line x1="329.1" y1="545.45" x2="329.1" y2="549.05" stroke="#0e0e0e" stroke-width="1.05"/>
<line x1="346.1" y1="443" x2="346.1" y2="473.4" stroke="#232323" stroke-width="1.3"/>
<line x1="342.3" y1="443.4" x2="349.9" y2="443.4" stroke="#232323" stroke-width="1.2"/>
<rect x="338.85" y="473.65" width="14.5" height="71.8" fill="#E08C1C" stroke="#b37016" stroke-width="0.5"/>
<polygon points="346.10,437.25 346.66,438.08 347.62,438.36 347.00,439.14 347.04,440.14 346.10,439.80 345.16,440.14 345.20,439.14 344.58,438.36 345.54,438.08" fill="#111"/>
<line x1="346.1" y1="545.45" x2="346.1" y2="549.05" stroke="#0e0e0e" stroke-width="1.05"/>
<line x1="363.1" y1="536.75" x2="363.1" y2="542.25" stroke="#232323" stroke-width="1.3"/>
<line x1="359.3" y1="537.15" x2="366.9" y2="537.15" stroke="#232323" stroke-width="1.2"/>
<rect x="355.85" y="542.5" width="14.5" height="2.95" fill="#284A86" stroke="#203b6b" stroke-width="0.5"/>
<line x1="363.1" y1="545.45" x2="363.1" y2="549.05" stroke="#0e0e0e" stroke-width="1.05"/>
<line x1="380.1" y1="505" x2="380.1" y2="516.75" stroke="#232323" stroke-width="1.3"/>
<line x1="376.3" y1="505.4" x2="383.9" y2="505.4" stroke="#232323" stroke-width="1.2"/>
<rect x="372.85" y="517" width="14.5" height="28.45" fill="#6AA843" stroke="#548635" stroke-width="0.5"/>
<polygon points="378.23,499.25 378.78,500.08 379.75,500.36 379.13,501.14 379.17,502.14 378.23,501.80 377.28,502.14 377.32,501.14 376.70,500.36 377.67,500.08" fill="#111"/>
<polygon points="381.98,499.25 382.53,500.08 383.50,500.36 382.88,501.14 382.92,502.14 381.98,501.80 381.03,502.14 381.07,501.14 380.45,500.36 381.42,500.08" fill="#111"/>
<line x1="380.1" y1="545.45" x2="380.1" y2="549.05" stroke="#0e0e0e" stroke-width="1.05"/>
<line x1="397.1" y1="521.75" x2="397.1" y2="530" stroke="#232323" stroke-width="1.3"/>
<line x1="393.3" y1="522.15" x2="400.9" y2="522.15" stroke="#232323" stroke-width="1.2"/>
<rect x="389.85" y="530.25" width="14.5" height="15.2" fill="#56256D" stroke="#441d57" stroke-width="0.5"/>
<polygon points="397.10,516.00 397.66,516.83 398.62,517.11 398.00,517.89 398.04,518.89 397.10,518.55 396.16,518.89 396.20,517.89 395.58,517.11 396.54,516.83" fill="#111"/>
<line x1="397.1" y1="545.45" x2="397.1" y2="549.05" stroke="#0e0e0e" stroke-width="1.05"/>
<line x1="414.1" y1="474" x2="414.1" y2="498" stroke="#232323" stroke-width="1.3"/>
<line x1="410.3" y1="474.4" x2="417.9" y2="474.4" stroke="#232323" stroke-width="1.2"/>
<rect x="406.85" y="498.25" width="14.5" height="47.2" fill="#E08C1C" stroke="#b37016" stroke-width="0.5"/>
<polygon points="412.23,468.25 412.78,469.08 413.75,469.36 413.13,470.14 413.17,471.14 412.23,470.80 411.28,471.14 411.32,470.14 410.70,469.36 411.67,469.08" fill="#111"/>
<polygon points="415.98,468.25 416.53,469.08 417.50,469.36 416.88,470.14 416.92,471.14 415.98,470.80 415.03,471.14 415.07,470.14 414.45,469.36 415.42,469.08" fill="#111"/>
<line x1="414.1" y1="545.45" x2="414.1" y2="549.05" stroke="#0e0e0e" stroke-width="1.05"/>
<line x1="269.75" y1="421" x2="269.75" y2="546.05" stroke="#0e0e0e" stroke-width="1.4"/>
<line x1="269.15" y1="545.45" x2="423.25" y2="545.45" stroke="#0e0e0e" stroke-width="1.35"/>
<line x1="287.5" y1="553.25" x2="353" y2="553.25" stroke="#3a3a3a" stroke-width="1.25"/>
<text x="320.25" y="563.95" font-size="8.6" text-anchor="middle" fill="#161616" stroke="#161616" stroke-width="0.18" font-family="Liberation Sans, sans-serif">cells</text>
<line x1="356" y1="553.25" x2="421" y2="553.25" stroke="#3a3a3a" stroke-width="1.25"/>
<text x="388.5" y="563.95" font-size="8.6" text-anchor="middle" fill="#161616" stroke="#161616" stroke-width="0.18" font-family="Liberation Sans, sans-serif">SN</text>
<path d="M295.1 408.1V405.5H346.1V408.1" fill="none" stroke="#1a1a1a" stroke-width="1.1"/>
<polygon points="316.85,400.10 317.41,400.93 318.37,401.21 317.75,401.99 317.79,402.99 316.85,402.65 315.91,402.99 315.95,401.99 315.33,401.21 316.29,400.93" fill="#111"/>
<polygon points="320.60,400.10 321.16,400.93 322.12,401.21 321.50,401.99 321.54,402.99 320.60,402.65 319.66,402.99 319.70,401.99 319.08,401.21 320.04,400.93" fill="#111"/>
<polygon points="324.35,400.10 324.91,400.93 325.87,401.21 325.25,401.99 325.29,402.99 324.35,402.65 323.41,402.99 323.45,401.99 322.83,401.21 323.79,400.93" fill="#111"/>
<path d="M295.1 419.1V416.5H329.1V419.1" fill="none" stroke="#1a1a1a" stroke-width="1.1"/>
<polygon points="310.23,411.10 310.78,411.93 311.75,412.21 311.13,412.99 311.17,413.99 310.23,413.65 309.28,413.99 309.32,412.99 308.70,412.21 309.67,411.93" fill="#111"/>
<polygon points="313.98,411.10 314.53,411.93 315.50,412.21 314.88,412.99 314.92,413.99 313.98,413.65 313.03,413.99 313.07,412.99 312.45,412.21 313.42,411.93" fill="#111"/>
<path d="M295.1 431.1V428.5H312.1V431.1" fill="none" stroke="#1a1a1a" stroke-width="1.1"/>
<polygon points="301.73,422.35 302.28,423.18 303.25,423.46 302.63,424.24 302.67,425.24 301.73,424.90 300.78,425.24 300.82,424.24 300.20,423.46 301.17,423.18" fill="#111"/>
<polygon points="305.48,422.35 306.03,423.18 307.00,423.46 306.38,424.24 306.42,425.24 305.48,424.90 304.53,425.24 304.57,424.24 303.95,423.46 304.92,423.18" fill="#111"/>
<path d="M329.1 428.1V425.5H346.1V428.1" fill="none" stroke="#1a1a1a" stroke-width="1.1"/>
<polygon points="337.60,419.85 338.16,420.68 339.12,420.96 338.50,421.74 338.54,422.74 337.60,422.40 336.66,422.74 336.70,421.74 336.08,420.96 337.04,420.68" fill="#111"/>
<path d="M363.1 415.1V412.5H414.1V415.1" fill="none" stroke="#1a1a1a" stroke-width="1.1"/>
<polygon points="386.73,406.85 387.28,407.68 388.25,407.96 387.63,408.74 387.67,409.74 386.73,409.40 385.78,409.74 385.82,408.74 385.20,407.96 386.17,407.68" fill="#111"/>
<polygon points="390.48,406.85 391.03,407.68 392.00,407.96 391.38,408.74 391.42,409.74 390.48,409.40 389.53,409.74 389.57,408.74 388.95,407.96 389.92,407.68" fill="#111"/>
<path d="M363.1 428.1V425.5H380.1V428.1" fill="none" stroke="#1a1a1a" stroke-width="1.1"/>
<polygon points="371.60,419.35 372.16,420.18 373.12,420.46 372.50,421.24 372.54,422.24 371.60,421.90 370.66,422.24 370.70,421.24 370.08,420.46 371.04,420.18" fill="#111"/>
<path d="M397.1 427.1V424.5H414.1V427.1" fill="none" stroke="#1a1a1a" stroke-width="1.1"/>
<polygon points="405.60,418.35 406.16,419.18 407.12,419.46 406.50,420.24 406.54,421.24 405.60,420.90 404.66,421.24 404.70,420.24 404.08,419.46 405.04,419.18" fill="#111"/>
<rect x="436.3" y="37.3" width="11.6" height="5.2" fill="#B00C37" stroke="#7e0827" stroke-width="0.6"/>
<text transform="translate(451.1,42.85) scale(0.94,1)" font-size="9.1" fill="#161616" stroke="#161616" stroke-width="0.18" font-family="Liberation Sans, sans-serif">OP9</text>
<rect x="436.3" y="48.95" width="11.6" height="5.2" fill="#284A86" stroke="#1c3560" stroke-width="0.6"/>
<text transform="translate(451.1,54.5) scale(0.94,1)" font-size="9.1" fill="#161616" stroke="#161616" stroke-width="0.18" font-family="Liberation Sans, sans-serif">OP9+WT</text>
<rect x="436.3" y="60.6" width="11.6" height="5.2" fill="#6AA843" stroke="#4c7830" stroke-width="0.6"/>
<text transform="translate(451.1,66.15) scale(0.94,1)" font-size="9.1" fill="#161616" stroke="#161616" stroke-width="0.18" font-family="Liberation Sans, sans-serif">OP9+p66<tspan font-size="5.4" dy="-3.4" stroke="none" fill="#444">-/-</tspan></text>
<rect x="436.3" y="72.25" width="11.6" height="5.2" fill="#56256D" stroke="#3d1a4e" stroke-width="0.6"/>
<text transform="translate(451.1,77.8) scale(0.94,1)" font-size="9.1" fill="#161616" stroke="#161616" stroke-width="0.18" font-family="Liberation Sans, sans-serif">OP9+TCL1</text>
<rect x="436.3" y="83.9" width="11.6" height="5.2" fill="#E08C1C" stroke="#a16414" stroke-width="0.6"/>
<text transform="translate(451.1,89.45) scale(0.94,1)" font-size="9.1" fill="#161616" stroke="#161616" stroke-width="0.18" font-family="Liberation Sans, sans-serif">OP9+TCL1/p66<tspan font-size="5.4" dy="-3.4" stroke="none" fill="#444">-/-</tspan></text>
<rect x="437.7" y="229.3" width="11.6" height="5.2" fill="#B00C37" stroke="#7e0827" stroke-width="0.6"/>
<text transform="translate(452.5,234.85) scale(0.94,1)" font-size="9.1" fill="#161616" stroke="#161616" stroke-width="0.18" font-family="Liberation Sans, sans-serif">OP9</text>
<rect x="437.7" y="240.95" width="11.6" height="5.2" fill="#284A86" stroke="#1c3560" stroke-width="0.6"/>
<text transform="translate(452.5,246.5) scale(0.94,1)" font-size="9.1" fill="#161616" stroke="#161616" stroke-width="0.18" font-family="Liberation Sans, sans-serif">OP9+WT</text>
<rect x="437.7" y="252.6" width="11.6" height="5.2" fill="#6AA843" stroke="#4c7830" stroke-width="0.6"/>
<text transform="translate(452.5,258.15) scale(0.94,1)" font-size="9.1" fill="#161616" stroke="#161616" stroke-width="0.18" font-family="Liberation Sans, sans-serif">OP9+p66<tspan font-size="5.4" dy="-3.4" stroke="none" fill="#444">-/-</tspan></text>
<rect x="437.7" y="264.25" width="11.6" height="5.2" fill="#56256D" stroke="#3d1a4e" stroke-width="0.6"/>
<text transform="translate(452.5,269.8) scale(0.94,1)" font-size="9.1" fill="#161616" stroke="#161616" stroke-width="0.18" font-family="Liberation Sans, sans-serif">OP9+TCL1</text>
<rect x="437.7" y="275.9" width="11.6" height="5.2" fill="#E08C1C" stroke="#a16414" stroke-width="0.6"/>
<text transform="translate(452.5,281.45) scale(0.94,1)" font-size="9.1" fill="#161616" stroke="#161616" stroke-width="0.18" font-family="Liberation Sans, sans-serif">OP9+TCL1/p66<tspan font-size="5.4" dy="-3.4" stroke="none" fill="#444">-/-</tspan></text>
<rect x="435.5" y="421.3" width="11.6" height="5.2" fill="#B00C37" stroke="#7e0827" stroke-width="0.6"/>
<text transform="translate(450.3,426.85) scale(0.94,1)" font-size="9.1" fill="#161616" stroke="#161616" stroke-width="0.18" font-family="Liberation Sans, sans-serif">OP9</text>
<rect x="435.5" y="432.95" width="11.6" height="5.2" fill="#284A86" stroke="#1c3560" stroke-width="0.6"/>
<text transform="translate(450.3,438.5) scale(0.94,1)" font-size="9.1" fill="#161616" stroke="#161616" stroke-width="0.18" font-family="Liberation Sans, sans-serif">OP9+WT</text>
<rect x="435.5" y="444.6" width="11.6" height="5.2" fill="#6AA843" stroke="#4c7830" stroke-width="0.6"/>
<text transform="translate(450.3,450.15) scale(0.94,1)" font-size="9.1" fill="#161616" stroke="#161616" stroke-width="0.18" font-family="Liberation Sans, sans-serif">OP9+p66<tspan font-size="5.4" dy="-3.4" stroke="none" fill="#444">-/-</tspan></text>
<rect x="435.5" y="456.25" width="11.6" height="5.2" fill="#56256D" stroke="#3d1a4e" stroke-width="0.6"/>
<text transform="translate(450.3,461.8) scale(0.94,1)" font-size="9.1" fill="#161616" stroke="#161616" stroke-width="0.18" font-family="Liberation Sans, sans-serif">OP9+TCL1</text>
<rect x="435.5" y="467.9" width="11.6" height="5.2" fill="#E08C1C" stroke="#a16414" stroke-width="0.6"/>
<text transform="translate(450.3,473.45) scale(0.94,1)" font-size="9.1" fill="#161616" stroke="#161616" stroke-width="0.18" font-family="Liberation Sans, sans-serif">OP9+TCL1/p66<tspan font-size="5.4" dy="-3.4" stroke="none" fill="#444">-/-</tspan></text>
</svg></body></html>
